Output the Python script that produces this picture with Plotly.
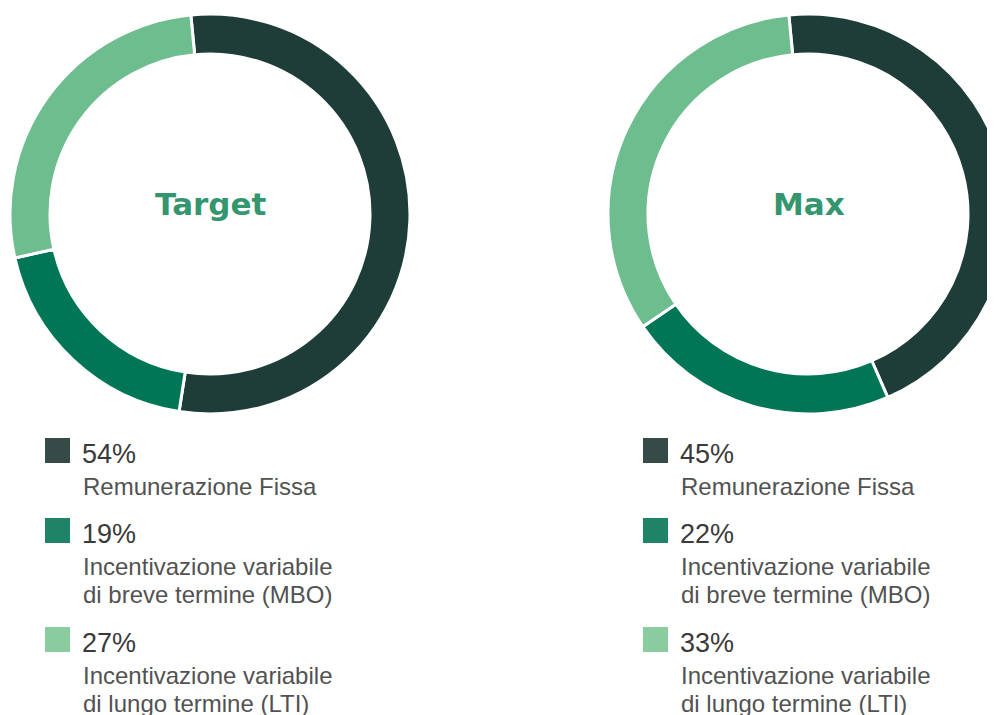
import plotly.graph_objects as go

""""""""" Pay mix: Target vs Max """""""""

# data
componenti = ["Remunerazione Fissa", "Incentivazione variabile<br>di breve termine (MBO)", "Incentivazione variabile<br>di lungo termine (LTI)"]
target_pct = [54, 19, 27]
max_pct = [45, 22, 33]
scenari = ["Target", "Max"]

# colours
slice_colors = ["#1e3d38", "#007656", "#6dbd8e"]
legend_colors = ["#364b48", "#1f8467", "#8acba0"]

W = 1010
H = 715
OFF = 8   # page body margin

def px(x):
	return (x - OFF) / W

def py(y):
	return 1 - (y - OFF) / H

def donut(values, name, cx, cy, r = 200):
	""" adds a donut centred on screen pixel (cx, cy) """
	fig.add_trace(
		go.Pie(
			labels = [c.replace("<br>", " ") for c in componenti],
			values = values,
			name = name,
			hole = 0.8,
			sort = False,
			direction = "clockwise",
			rotation = -5.5,
			textinfo = "none",
			hoverinfo = "label+percent",
			marker = dict(colors = slice_colors, line = dict(color = "white", width = 3)),
			domain = dict(x = [px(cx - r), px(cx + r)], y = [py(cy + r), py(cy - r)]),
			showlegend = False
		)
	)
	fig.add_annotation(
		x = px(cx + 1), y = py(204), xref = "paper", yref = "paper",
		xanchor = "center", yanchor = "middle",
		text = "<b>" + name + "</b>", showarrow = False,
		font = dict(family = "DejaVu Sans", size = 31, color = "#34966f")
	)

def legenda(values, x0):
	""" square + percent + description lines """
	tops = [438, 518, 627]
	for i, v in enumerate(values):
		t = tops[i]
		fig.add_shape(
			type = "rect", xref = "paper", yref = "paper",
			x0 = px(x0), x1 = px(x0 + 25), y0 = py(t + 25), y1 = py(t),
			fillcolor = legend_colors[i], line = dict(width = 0)
		)
		base = t + 25
		fig.add_annotation(
			x = px(x0 + 35), y = py(base - 9.5), xref = "paper", yref = "paper",
			xanchor = "left", yanchor = "middle", showarrow = False,
			text = f"{v}%",
			font = dict(family = "Liberation Sans, Arial", size = 27, color = "#3a3a3a")
		)
		for j, riga in enumerate(componenti[i].split("<br>")):
			fig.add_annotation(
				x = px(x0 + 36), y = py(base + 32 + 28 * j - 8.6), xref = "paper", yref = "paper",
				xanchor = "left", yanchor = "middle", showarrow = False,
				text = riga,
				font = dict(family = "Liberation Sans, Arial", size = 24, color = "#525252")
			)

fig = go.Figure()
donut(target_pct, scenari[0], 210, 214)
donut(max_pct, scenari[1], 808, 214)
legenda(target_pct, 45)
legenda(max_pct, 643)

fig.update_layout(
	width = W,
	height = H,
	margin = dict(l = 0, r = 0, t = 0, b = 0),
	paper_bgcolor = "white",
	plot_bgcolor = "white",
	font = dict(family = "Liberation Sans, Arial")
)

fig.write_html("out.html")
